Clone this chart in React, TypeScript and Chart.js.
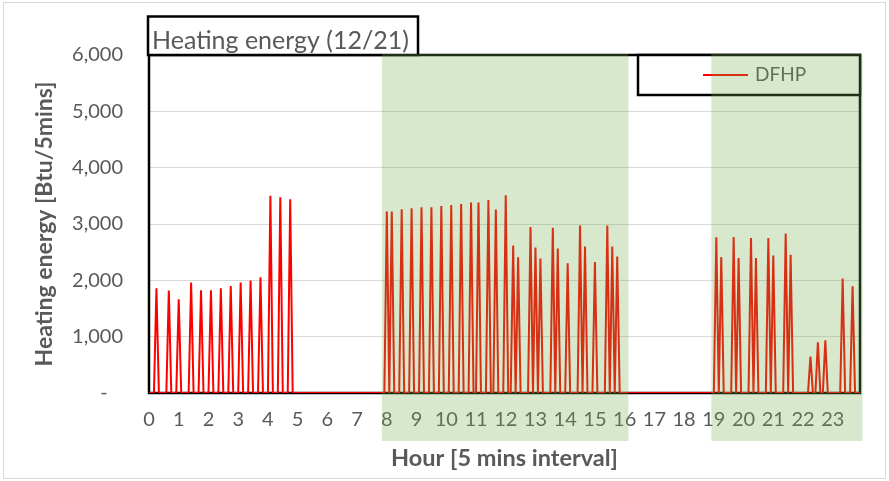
import { useEffect, useRef } from "react";
import { Chart, registerables } from "chart.js";

Chart.register(...registerables);

const FONT = "Lato, 'Open Sans', sans-serif";
const TEXT_GREY = "#595959";

// One day in 5-minute slots (12 per hour)
const SLOTS_PER_HOUR = 12;
const SLOT_COUNT = 288;

const hourLabels = [
  "0", "1", "2", "3", "4", "5", "6", "7", "8", "9", "10", "11",
  "12", "13", "14", "15", "16", "17", "18", "19", "20", "21", "22", "23",
];

const btuTicks = [0, 1000, 2000, 3000, 4000, 5000, 6000];
const btuTickLabels = ["-   ", "1,000", "2,000", "3,000", "4,000", "5,000", "6,000"];

// DFHP firing cycles: slot index within the day and heat delivered in that slot [Btu]
const cycleSlots = [
  3, 8, 12, 17, 21, 25, 29, 33, 37, 41, 45, 49, 53, 57,
  96, 98, 102, 106, 110, 114, 118, 122, 126, 130, 133, 137, 140, 144, 147, 149,
  154, 156, 158, 163, 165, 169, 174, 176, 180, 185, 187, 189,
  229, 231, 236, 238, 243, 245, 250, 252, 257, 259, 267, 270, 273, 280, 284,
];
const cycleBtu = [
  1860, 1817, 1664, 1960, 1824, 1824, 1860, 1900, 1960, 1995, 2055, 3500, 3476, 3440,
  3220, 3220, 3263, 3281, 3298, 3298, 3321, 3339, 3357, 3380, 3380, 3428, 3256, 3511, 2616, 2410,
  2948, 2581, 2386, 2931, 2563, 2303, 2972, 2599, 2327, 2972, 2599, 2421,
  2765, 2416, 2771, 2398, 2753, 2398, 2753, 2439, 2830, 2456, 645, 900, 935, 2030, 1895,
];

// Shaded periods, in slot units
const shadeStart = [94, 227];
const shadeEnd = [193.5, 288];

const chartDecor = {
  id: "chartDecor",
  beforeDraw(chart: any) {
    const { ctx, width, height } = chart;
    ctx.save();
    ctx.fillStyle = "#ffffff";
    ctx.fillRect(0, 0, width, height);
    ctx.strokeStyle = "#d9d9d9";
    ctx.lineWidth = 1;
    ctx.strokeRect(3.5, 2.5, width - 7, height - 5);
    ctx.restore();
  },
  beforeDatasetsDraw(chart: any) {
    const { ctx, chartArea: a } = chart;
    ctx.save();
    ctx.strokeStyle = "#000000";
    ctx.lineWidth = 2.5;
    ctx.strokeRect(a.left, a.top, a.right - a.left, a.bottom - a.top);
    ctx.restore();
  },
  afterDraw(chart: any) {
    const { ctx, chartArea: a, scales } = chart;
    ctx.save();

    // Title box
    ctx.fillStyle = "#ffffff";
    ctx.fillRect(148, 16.5, 270, a.top - 16.5);
    ctx.strokeStyle = "#000000";
    ctx.lineWidth = 2.5;
    ctx.strokeRect(148, 16.5, 270, a.top - 16.5);
    ctx.fillStyle = TEXT_GREY;
    ctx.font = `25px ${FONT}`;
    ctx.textAlign = "left";
    ctx.textBaseline = "alphabetic";
    ctx.fillText("Heating energy (12/21)", 152, 49);

    // Legend box
    ctx.fillStyle = "#ffffff";
    ctx.fillRect(638, a.top, a.right - 638, 40);
    ctx.strokeStyle = "#000000";
    ctx.strokeRect(638, a.top, a.right - 638, 40);
    ctx.strokeStyle = "#ff0000";
    ctx.lineWidth = 2;
    ctx.beginPath();
    ctx.moveTo(703, 75);
    ctx.lineTo(748, 75);
    ctx.stroke();
    ctx.fillStyle = TEXT_GREY;
    ctx.font = `19px ${FONT}`;
    ctx.textBaseline = "middle";
    ctx.fillText(chart.data.datasets[0].label, 755, 75);

    // Axis titles
    ctx.font = `bold 23.5px ${FONT}`;
    ctx.textAlign = "center";
    ctx.fillText("Hour [5 mins interval]", (a.left + a.right) / 2, 458);
    ctx.font = `bold 23px ${FONT}`;
    ctx.translate(45, (a.top + a.bottom) / 2);
    ctx.rotate(-Math.PI / 2);
    ctx.fillText("Heating energy [Btu/5mins]", 0, 0);
    ctx.setTransform(1, 0, 0, 1, 0, 0);

    // Shaded periods laid over the plot and hour labels
    const x = scales.x;
    ctx.fillStyle = "rgba(112, 173, 71, 0.28)";
    shadeStart.forEach((s, i) => {
      const x0 = x.getPixelForValue(s);
      const x1 = x.getPixelForValue(shadeEnd[i]);
      ctx.fillRect(x0, a.top - 1, x1 - x0, 441 - (a.top - 1));
    });
    ctx.restore();
  },
};

export default function App() {
  const canvasRef = useRef<HTMLCanvasElement>(null);

  useEffect(() => {
    const series: number[] = new Array(SLOT_COUNT).fill(0);
    cycleSlots.forEach((slot, i) => {
      series[slot] = cycleBtu[i];
    });

    const chart = new Chart(canvasRef.current as HTMLCanvasElement, {
      type: "line",
      data: {
        labels: series.map((_, i) => String(i)),
        datasets: [
          {
            label: "DFHP",
            data: series,
            borderColor: "#ff0000",
            borderWidth: 2,
            pointRadius: 0,
            tension: 0,
            fill: false,
          },
        ],
      },
      options: {
        responsive: false,
        animation: false,
        devicePixelRatio: 1,
        layout: { padding: { left: 0, top: 55, right: 29, bottom: 0 } },
        plugins: {
          legend: { display: false },
          tooltip: { enabled: false },
          title: { display: false },
        },
        scales: {
          x: {
            type: "category",
            offset: false,
            grid: { display: false, drawTicks: false },
            border: { display: false },
            ticks: {
              autoSkip: false,
              maxRotation: 0,
              minRotation: 0,
              padding: 15,
              color: TEXT_GREY,
              font: { family: FONT, size: 20 },
              callback: (_v: any, i: number) =>
                i % SLOTS_PER_HOUR === 0 ? hourLabels[i / SLOTS_PER_HOUR] : "",
            },
            afterFit: (s: any) => {
              s.height = 88;
            },
          },
          y: {
            min: 0,
            max: 6000,
            grid: { color: "#d9d9d9", lineWidth: 1, drawTicks: false },
            border: { display: false },
            ticks: {
              stepSize: 1000,
              padding: 26,
              color: TEXT_GREY,
              font: { family: FONT, size: 20 },
              callback: (v: any) => btuTickLabels[btuTicks.indexOf(Number(v))] ?? "",
            },
            afterFit: (s: any) => {
              s.width = 149;
            },
          },
        },
      },
      plugins: [chartDecor],
    });

    return () => chart.destroy();
  }, []);

  return (
    <div style={{ position: "fixed", left: 0, top: 0, width: 889, height: 481 }}>
      <canvas ref={canvasRef} width={889} height={481} />
    </div>
  );
}
